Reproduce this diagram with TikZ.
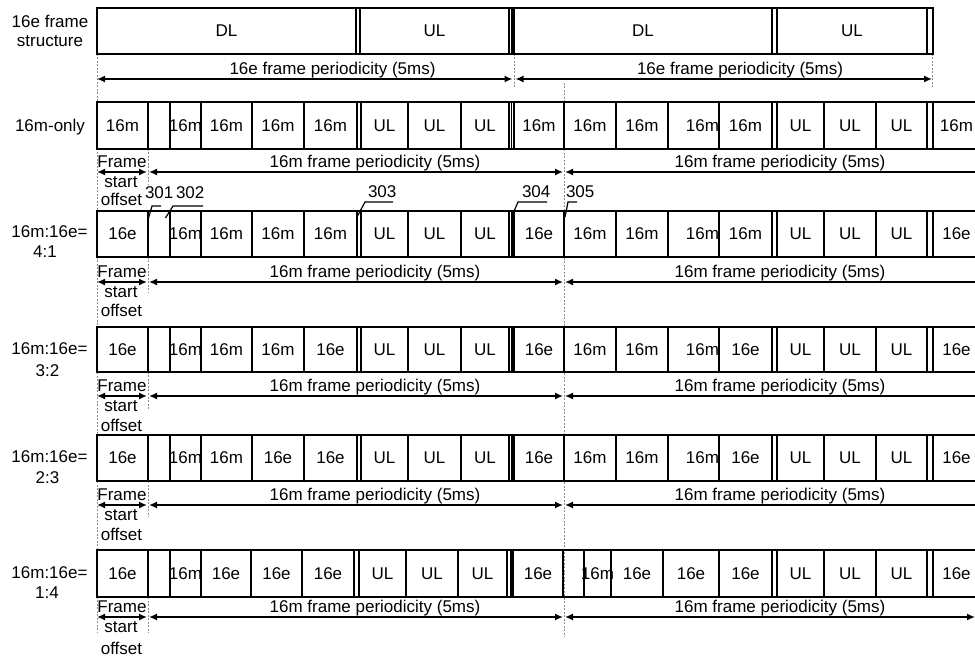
\documentclass[tikz,border=0pt]{standalone}
\usepackage{fontspec}
\setmainfont{Liberation Sans}
\usetikzlibrary{arrows.meta}
\newcommand\mkrow[4]{%
  \foreach \xa/\xb/\tx/\ps [count=\i] in {#4} {%
    \pgfmathsetmacro\ww{\xb-\xa}%
    \pgfmathsetmacro\hh{#3-#2}%
    \node[cellbox, minimum width=\ww pt, minimum height=\hh pt] (#1c\i) at (\xa,#2) {};%
    \node[celltxt, anchor=\ps] (#1t\i) at (#1c\i.\ps) {\tx};%
  }}
\newcommand\mkarrows[5]{% #1 name, #2 arrow y, #3 offset baseline shift, #4 last style, #5 last x
  \coordinate (#1a0) at (97,#2);
  \coordinate (#1a1) at (147,#2);
  \coordinate (#1a2) at (149,#2);
  \coordinate (#1a3) at (563,#2);
  \coordinate (#1a4) at (565,#2);
  \coordinate (#1a5) at (#5,#2);
  \draw[arr] (#1a0) -- (#1a1);
  \draw[arr] (#1a2) -- (#1a3);
  \draw[#4] (#1a4) -- (#1a5);
  \node[lbl] (#1p1) at (375,#2-4.5) {16m frame periodicity (5ms)};
  \node[lbl] (#1p2) at (780,#2-4.5) {16m frame periodicity (5ms)};
  \node[lbl] (#1f1) at (122,#2-4.5) {Frame};
  \node[lbl] (#1f2) at (121,#2+15.5) {start};
  \node[lbl] (#1f3) at (121.5,#2+#3) {offset};
}
\begin{document}
\begin{tikzpicture}[x=1pt,y=-1pt,
  cellbox/.style={draw, line width=1.6pt, inner sep=0pt, outer sep=0pt, anchor=north west},
  celltxt/.style={inner sep=0pt, outer sep=0pt, font=\fontsize{17}{20}\selectfont},
  lbl/.style={inner sep=0pt, outer sep=0pt, font=\fontsize{17}{20}\selectfont, anchor=base},
  arr/.style={line width=1.5pt, {Latex[length=8pt,width=7pt]}-{Latex[length=8pt,width=7pt]}},
  arrl/.style={line width=1.5pt, {Latex[length=8pt,width=7pt]}-},
  guide/.style={draw=black!45, line width=0.8pt, dash pattern=on 2pt off 1.5pt},
  leader/.style={line width=1.2pt},
  thickbar/.style={line width=2pt},
  thinbar/.style={line width=1.2pt},
]
\useasboundingbox (0,0) rectangle (975,660);

% ---- dashed guides (behind) ----
\coordinate (g0a) at (97,54);   \coordinate (g0b) at (97,633);
\coordinate (g1a) at (564,83);  \coordinate (g1b) at (564,637);
\coordinate (g2a) at (514,54);  \coordinate (g2b) at (514,88);
\coordinate (g3a) at (932,54);  \coordinate (g3b) at (932,88);
\draw[guide] (g0a) -- (g0b);
\draw[guide] (g1a) -- (g1b);
\draw[guide] (g2a) -- (g2b);
\draw[guide] (g3a) -- (g3b);
\foreach \yb/\ye [count=\k] in {149/185, 257/293, 372/410, 481/517, 597/633} {
  \coordinate (h\k a) at (148,\yb);
  \coordinate (h\k b) at (148,\ye);
  \draw[guide] (h\k a) -- (h\k b);
}

% ---- row labels ----
\node[lbl] (l0a) at (50,28) {16e frame};
\node[lbl] (l0b) at (50,47) {structure};
\node[lbl] (l1a) at (50,132) {16m-only};
\node[lbl] (l2a) at (49.5,238) {16m:16e=};
\node[lbl] (l2b) at (45,258) {4:1};
\node[lbl] (l3a) at (49.5,355) {16m:16e=};
\node[lbl] (l3b) at (47.5,377) {3:2};
\node[lbl] (l4a) at (49.5,462) {16m:16e=};
\node[lbl] (l4b) at (47.5,483) {2:3};
\node[lbl] (l5a) at (49.5,578) {16m:16e=};
\node[lbl] (l5b) at (47,598) {1:4};

% ---- 16e frame structure ----
\mkrow{r0}{8}{54}{97/356/DL/center, 356/360//center, 360/509/UL/center, 509/514//center,
  514/772/DL/center, 772/777//center, 777/927/UL/center, 927/933//center}
\draw[thickbar] ([xshift=-1.6pt]r0c4.north east) -- ([xshift=-1.6pt]r0c4.south east);
\coordinate (t0) at (97,79);
\coordinate (t1) at (512.5,79);
\coordinate (t2) at (515.5,79);
\coordinate (t3) at (932,79);
\draw[arr] (t0) -- (t1);
\draw[arr] (t2) -- (t3);
\node[lbl] (tp1) at (332.5,75) {16e frame periodicity (5ms)};
\node[lbl] (tp2) at (740,75) {16e frame periodicity (5ms)};

% ---- 16m-only ----
\mkrow{r1}{102}{149}{97/148/16m/center, 148/170//center, 170/201/16m/center, 201/252/16m/center,
  252/304/16m/center, 304/357/16m/center, 357/361//center, 361/408/UL/center, 408/461/UL/center,
  461/509/UL/center, 509/514//center, 514/564/16m/center, 564/616/16m/center, 616/668/16m/center,
  668/719/16m/east, 719/772/16m/center, 772/777//center, 777/824/UL/center, 824/876/UL/center,
  876/927/UL/center, 927/933//center, 933/980/16m/center}
\draw[thinbar] (r1c11.north) -- (r1c11.south);
\mkarrows{r1}{172}{34}{arrl}{990}

% ---- 4:1 ----
\mkrow{r2}{211}{257}{97/148/16e/center, 148/170//center, 170/201/16m/center, 201/252/16m/center,
  252/304/16m/center, 304/357/16m/center, 357/361//center, 361/408/UL/center, 408/461/UL/center,
  461/509/UL/center, 509/514//center, 514/564/16e/center, 564/616/16m/center, 616/668/16m/center,
  668/719/16m/east, 719/772/16m/center, 772/777//center, 777/824/UL/center, 824/876/UL/center,
  876/927/UL/center, 927/933//center, 933/980/16e/center}
\draw[thickbar] ([xshift=-1.6pt]r2c11.north east) -- ([xshift=-1.6pt]r2c11.south east);
\mkarrows{r2}{282}{35}{arrl}{990}

% ---- 3:2 ----
\mkrow{r3}{327}{372}{97/148/16e/center, 148/170//center, 170/201/16m/center, 201/252/16m/center,
  252/304/16m/center, 304/357/16e/center, 357/361//center, 361/408/UL/center, 408/461/UL/center,
  461/509/UL/center, 509/514//center, 514/564/16e/center, 564/616/16m/center, 616/668/16m/center,
  668/719/16m/east, 719/772/16e/center, 772/777//center, 777/824/UL/center, 824/876/UL/center,
  876/927/UL/center, 927/933//center, 933/980/16e/center}
\draw[thickbar] ([xshift=-1.6pt]r3c11.north east) -- ([xshift=-1.6pt]r3c11.south east);
\mkarrows{r3}{396}{35}{arrl}{990}

% ---- 2:3 ----
\mkrow{r4}{435}{481}{97/148/16e/center, 148/170//center, 170/201/16m/center, 201/252/16m/center,
  252/304/16e/center, 304/357/16e/center, 357/361//center, 361/408/UL/center, 408/461/UL/center,
  461/509/UL/center, 509/514//center, 514/564/16e/center, 564/616/16m/center, 616/668/16m/center,
  668/719/16m/east, 719/772/16e/center, 772/777//center, 777/824/UL/center, 824/876/UL/center,
  876/927/UL/center, 927/933//center, 933/980/16e/center}
\draw[thickbar] ([xshift=-1.6pt]r4c11.north east) -- ([xshift=-1.6pt]r4c11.south east);
\mkarrows{r4}{505}{35}{arrl}{990}

% ---- 1:4 ----
\mkrow{r5}{550}{597}{97/148/16e/center, 148/170//center, 170/201/16m/center, 201/251/16e/center,
  251/302/16e/center, 302/354/16e/center, 354/359//center, 359/406/UL/center, 406/458/UL/center,
  458/507/UL/center, 507/513//center, 513/563/16e/center, 563/584//center, 584/611/16m/center,
  611/663/16e/center, 663/719/16e/center, 719/772/16e/center, 772/777//center, 777/824/UL/center,
  824/876/UL/center, 876/927/UL/center, 927/933//center, 933/980/16e/center}
\draw[thickbar] ([xshift=-1.6pt]r5c11.north east) -- ([xshift=-1.6pt]r5c11.south east);
\mkarrows{r5}{617}{37}{arr}{975}

% ---- callouts ----
\node[lbl, anchor=base west] (n301) at (145,199) {301};
\node[lbl, anchor=base west] (n302) at (176,199) {302};
\node[lbl, anchor=base west] (n303) at (368,198) {303};
\node[lbl, anchor=base west] (n304) at (522,198) {304};
\node[lbl, anchor=base west] (n305) at (566,198) {305};
\coordinate (k1a) at (148.5,218); \coordinate (k1b) at (152,206); \coordinate (k1c) at (161,206);
\coordinate (k2a) at (165.5,218); \coordinate (k2b) at (173,206); \coordinate (k2c) at (203,206);
\coordinate (k3a) at (357,217);   \coordinate (k3b) at (365,202); \coordinate (k3c) at (393,202);
\coordinate (k4a) at (511.5,217); \coordinate (k4b) at (518,202); \coordinate (k4c) at (547,202);
\coordinate (k5a) at (565,217);   \coordinate (k5b) at (568,202); \coordinate (k5c) at (577,202);
\draw[leader] (k1a) -- (k1b) -- (k1c);
\draw[leader] (k2a) -- (k2b) -- (k2c);
\draw[leader] (k3a) -- (k3b) -- (k3c);
\draw[leader] (k4a) -- (k4b) -- (k4c);
\draw[leader] (k5a) -- (k5b) -- (k5c);
\end{tikzpicture}
\end{document}
